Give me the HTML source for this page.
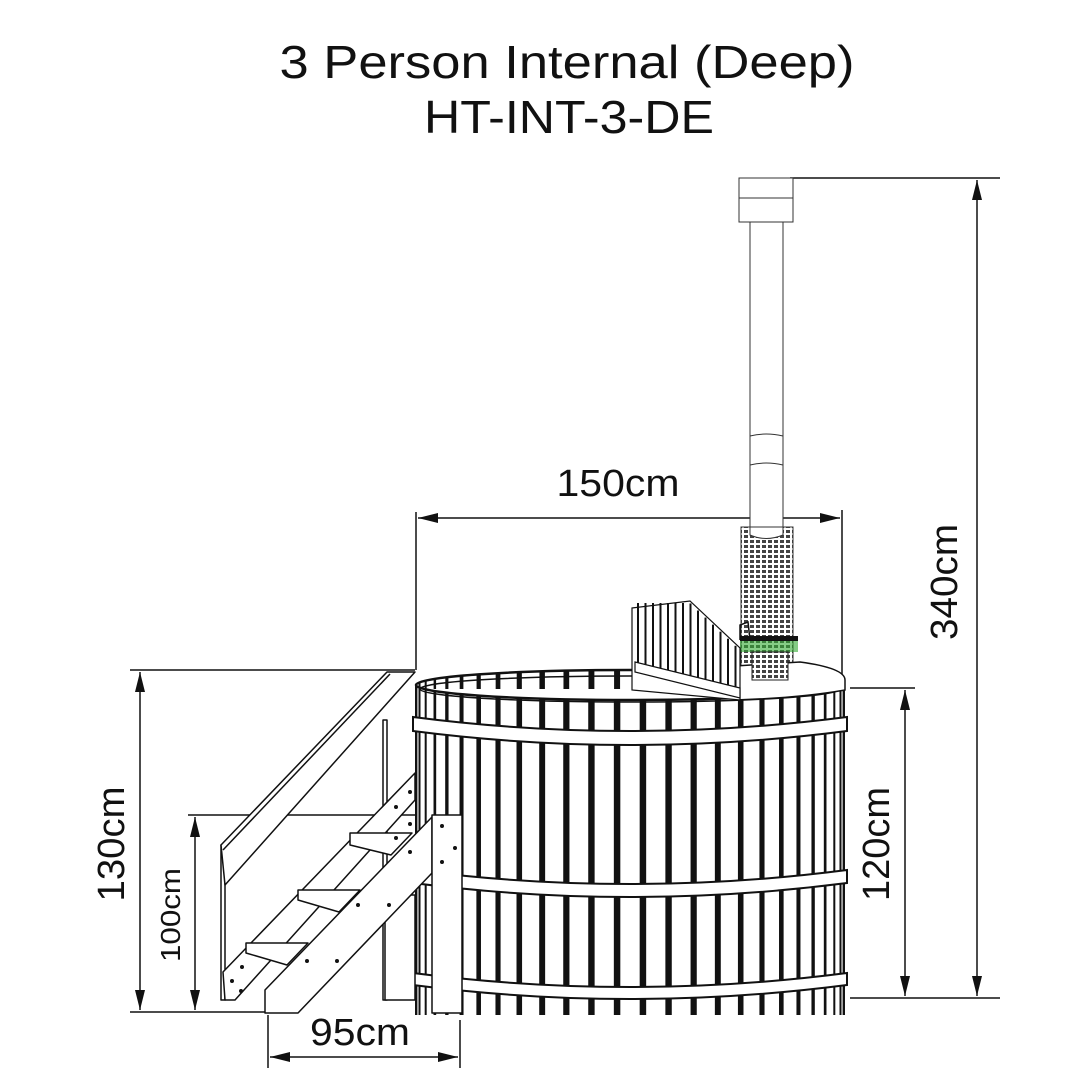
<!DOCTYPE html>
<html><head><meta charset="utf-8">
<style>
html,body{margin:0;padding:0;background:#fff;width:1080px;height:1080px;overflow:hidden}
svg{display:block}
text{font-family:"Liberation Sans",sans-serif;fill:#111}
</style></head>
<body>
<svg id="s" width="1080" height="1080" viewBox="0 0 1080 1080" xmlns="http://www.w3.org/2000/svg">
<defs>
<pattern id="mesh" width="6" height="5" patternUnits="userSpaceOnUse">
<rect width="6" height="5" fill="#fff"/>
<rect x="0" y="0" width="4" height="3" fill="#444"/>
</pattern>
<marker id="ar" viewBox="0 0 20 10" refX="20" refY="5" markerWidth="22" markerHeight="10" markerUnits="userSpaceOnUse" orient="auto-start-reverse">
<path d="M0,0 L20,5 L0,10 z" fill="#111"/>
</marker>
</defs>
<text x="567" y="78" font-size="46" text-anchor="middle" textLength="575" lengthAdjust="spacingAndGlyphs">3 Person Internal (Deep)</text>
<text x="569" y="133" font-size="46" text-anchor="middle" textLength="290" lengthAdjust="spacingAndGlyphs">HT-INT-3-DE</text>

<g stroke="#111" stroke-width="1.5" fill="none">
<line x1="790" y1="178" x2="1000" y2="178"/>
<line x1="850" y1="998" x2="1000" y2="998"/>
<line x1="977" y1="180" x2="977" y2="996" marker-start="url(#ar)" marker-end="url(#ar)"/>
<line x1="850" y1="688" x2="915" y2="688"/>
<line x1="905" y1="690" x2="905" y2="996" marker-start="url(#ar)" marker-end="url(#ar)"/>
<line x1="416" y1="512" x2="416" y2="670"/>
<line x1="842" y1="510" x2="842" y2="680"/>
<line x1="418" y1="518" x2="840" y2="518" marker-start="url(#ar)" marker-end="url(#ar)"/>
<line x1="130" y1="670" x2="415" y2="670"/>
<line x1="130" y1="1012" x2="265" y2="1012"/>
<line x1="140" y1="672" x2="140" y2="1010" marker-start="url(#ar)" marker-end="url(#ar)"/>
<line x1="188" y1="815" x2="415" y2="815"/>
<line x1="195" y1="817" x2="195" y2="1010" marker-start="url(#ar)" marker-end="url(#ar)"/>
<line x1="268" y1="1015" x2="268" y2="1068"/>
<line x1="460" y1="1020" x2="460" y2="1068"/>
<line x1="270" y1="1057" x2="458" y2="1057" marker-start="url(#ar)" marker-end="url(#ar)"/>
</g>
<text x="618" y="496" font-size="38" text-anchor="middle" textLength="123" lengthAdjust="spacingAndGlyphs">150cm</text>
<text x="360" y="1045" font-size="38" text-anchor="middle" textLength="100" lengthAdjust="spacingAndGlyphs">95cm</text>
<text transform="translate(957,582) rotate(-90)" font-size="38" text-anchor="middle" textLength="116" lengthAdjust="spacingAndGlyphs">340cm</text>
<text transform="translate(889,844) rotate(-90)" font-size="38" text-anchor="middle" textLength="114" lengthAdjust="spacingAndGlyphs">120cm</text>
<text transform="translate(124,844) rotate(-90)" font-size="38" text-anchor="middle" textLength="115" lengthAdjust="spacingAndGlyphs">130cm</text>
<text transform="translate(180,915) rotate(-90)" font-size="28" text-anchor="middle" textLength="94" lengthAdjust="spacingAndGlyphs">100cm</text>

<!-- chimney -->
<g stroke="#333" stroke-width="1" fill="#fff">
<rect x="739" y="178" width="54" height="44"/>
<line x1="739" y1="198" x2="793" y2="198"/>
<rect x="750" y="222" width="33" height="310"/>
<path d="M750,436 Q766,432 783,436 M750,465 Q766,461 783,465"/>
<rect x="741" y="527" width="52" height="153" fill="url(#mesh)" stroke="#333"/>
<line x1="767" y1="532" x2="767" y2="680" stroke="#fff" stroke-width="1.5"/>
<path d="M750,527 L750,535 Q766,542 783,535 L783,527 z" fill="#fff"/>
</g>

<!-- tub -->
<g id="tub"></g>

<!-- lid on right -->
<path d="M735,666 L800,662 Q845,668 845,680 L845,690 Q800,698 735,700 z" fill="#fff" stroke="#111" stroke-width="1.5"/>
<rect x="740" y="640" width="58" height="12" fill="#3a3" opacity="0.6"/>
<rect x="740" y="636" width="58" height="5" fill="#111"/>
<rect x="752" y="652" width="36" height="28" fill="url(#mesh)" stroke="#222"/>
<path d="M740,640 L740,625 L748,622 L750,640" fill="none" stroke="#111" stroke-width="1.5"/>

<!-- partition -->
<path d="M632,608 L690,601 L740,648 L740,700 L632,690 z" fill="#fff" stroke="#111" stroke-width="1.2"/>
<g id="part" stroke="#111" stroke-width="2"></g>
<path d="M635,662 L740,688 L740,698 L635,672 z" fill="#fff" stroke="#111" stroke-width="1.2"/>

<!-- stairs -->
<g stroke="#111" stroke-width="1.5" fill="#fff" stroke-linejoin="round">
<rect x="221" y="845" width="4" height="155"/>
<rect x="383" y="720" width="4" height="280"/>
<path d="M221,845 L387,672 L415,672 L225,885 z"/>
<line x1="223" y1="850" x2="390" y2="674"/>
<path d="M223,972 L415,773 L415,800 L235,1000 L225,1000 z"/>
<rect x="385" y="895" width="30" height="105"/>
<path d="M350,833 L412,833 L391,855 L350,845 z"/>
<path d="M298,890 L360,890 L339,912 L298,900 z"/>
<path d="M246,943 L308,943 L287,965 L246,953 z"/>
<path d="M265,990 L432,817 L432,873 L298,1013 L265,1013 z"/>
<rect x="432" y="815" width="30" height="198"/>
</g>
<g fill="#111">
<circle cx="242" cy="967" r="2"/><circle cx="232" cy="981" r="2"/><circle cx="241" cy="991" r="2"/>
<circle cx="307" cy="961" r="2"/><circle cx="337" cy="961" r="2"/>
<circle cx="358" cy="905" r="2"/><circle cx="389" cy="905" r="2"/>
<circle cx="410" cy="852" r="2"/><circle cx="396" cy="838" r="2"/><circle cx="410" cy="824" r="2"/><circle cx="396" cy="807" r="2"/><circle cx="410" cy="792" r="2"/>
<circle cx="442" cy="826" r="2"/><circle cx="455" cy="848" r="2"/><circle cx="442" cy="862" r="2"/>
</g>
</svg>
<script>
(function(){
var NS="http://www.w3.org/2000/svg";
function el(p,t,a){var e=document.createElementNS(NS,t);for(var k in a)e.setAttribute(k,a[k]);p.appendChild(e);return e;}
var tub=document.getElementById("tub");
var cx=630,R=214,tT=685,bot=1015,ry=15;
el(tub,"rect",{x:cx-R,y:tT,width:2*R,height:bot-tT,fill:"#fff"});
var N=26,k,th,x,w;
for(k=0;k<N;k++){th=Math.PI*(k+0.5)/N;x=cx-R*Math.cos(th);w=Math.max(2,6*Math.sin(th));
var yb=tT-ry*Math.sin(th);
el(tub,"rect",{x:x-w/2,y:yb,width:w,height:tT-yb+4,fill:"#111"});}
el(tub,"ellipse",{cx:cx,cy:tT,rx:R,ry:ry,fill:"none",stroke:"#111","stroke-width":2.5});
el(tub,"ellipse",{cx:cx,cy:tT+4,rx:R-4,ry:ry-2,fill:"none",stroke:"#111","stroke-width":1.5});
for(k=0;k<N;k++){th=Math.PI*(k+0.5)/N;x=cx-R*Math.cos(th);w=Math.max(2,6.5*Math.sin(th));
var yt=tT+ry*Math.sin(th);
el(tub,"rect",{x:x-w/2,y:yt,width:w,height:bot-yt,fill:"#111"});}
el(tub,"line",{x1:cx-R,y1:tT,x2:cx-R,y2:bot,stroke:"#111","stroke-width":2});
el(tub,"line",{x1:cx+R,y1:tT,x2:cx+R,y2:bot,stroke:"#111","stroke-width":2});
[[717,14],[870,13],[973,12]].forEach(function(b){var y=b[0],h=b[1],s=14;
var d="M"+(cx-R-3)+","+y+" Q"+cx+","+(y+2*s)+" "+(cx+R+3)+","+y+" L"+(cx+R+3)+","+(y+h)+" Q"+cx+","+(y+h+2*s)+" "+(cx-R-3)+","+(y+h)+" z";
el(tub,"path",{d:d,fill:"#fff",stroke:"#111","stroke-width":2});});
var pg=document.getElementById("part");
for(var i=0;i<14;i++){x=638+i*7.5;var yy=x<690?603:603+(x-690)*0.94;
el(pg,"line",{x1:x,y1:yy,x2:x,y2:665+(x-635)*0.22});}
})();
</script>
</body></html>
